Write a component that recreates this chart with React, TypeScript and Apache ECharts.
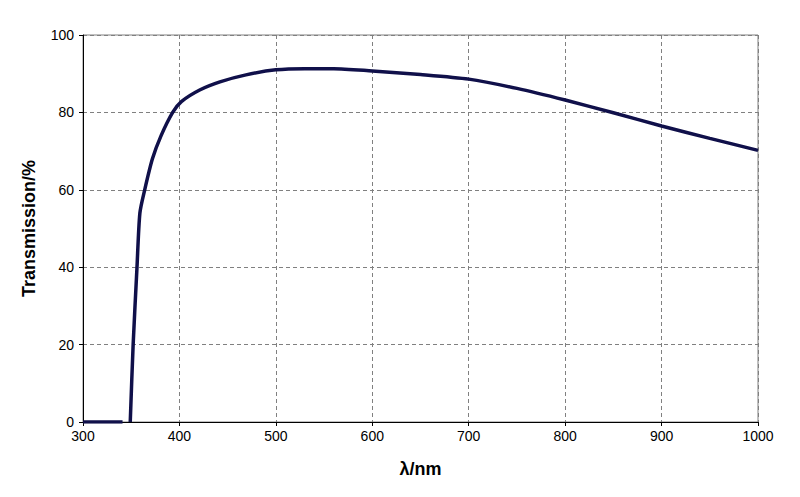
import React, { useEffect, useRef } from "react";
import * as echarts from "echarts";

const wavelengths = [300, 320, 341, 345, 349, 352, 356, 359, 364, 372, 381, 393, 402, 421, 442, 469, 500, 530, 560, 600, 650, 700, 750, 800, 850, 900, 950, 1000];
const transmission: (number | null)[] = [0, 0, 0, null, 0, 20, 40, 54, 60, 68, 74, 80, 82.8, 85.8, 87.9, 89.7, 91.0, 91.3, 91.3, 90.7, 89.8, 88.6, 86.2, 83.2, 79.9, 76.5, 73.3, 70.2];
const xTicks = { min: 300, max: 1000, interval: 100 };
const yTicks = { min: 0, max: 100, interval: 20 };

export default function App() {
  const ref = useRef<HTMLDivElement>(null);
  useEffect(() => {
    if (!ref.current) return;
    const chart = echarts.init(ref.current, undefined, { renderer: "svg" });
    const data = wavelengths.map((w, i) => [w, transmission[i] === null ? "-" : transmission[i]]);
    chart.setOption({
      animation: false,
      textStyle: { fontFamily: "Liberation Sans, Arial, sans-serif" },
      grid: { left: 83, right: 42, top: 35, bottom: 75, show: true, borderColor: "#808080", borderWidth: 1, backgroundColor: "transparent" },
      xAxis: {
        type: "value",
        min: xTicks.min, max: xTicks.max, interval: xTicks.interval,
        name: "λ/nm", nameLocation: "middle", nameGap: 38,
        nameTextStyle: { fontWeight: "bold", fontSize: 18, color: "#000" },
        axisLine: { lineStyle: { color: "#000", width: 1 } },
        axisTick: { show: true, length: 4, lineStyle: { color: "#000" } },
        axisLabel: { color: "#000", fontSize: 14, margin: 7, formatter: (v: number) => String(v) },
        splitLine: { show: true, lineStyle: { color: "#808080", type: [4, 3], width: 1 } },
      },
      yAxis: {
        type: "value",
        min: yTicks.min, max: yTicks.max, interval: yTicks.interval,
        name: "Transmission/%", nameLocation: "middle", nameGap: 45,
        nameTextStyle: { fontWeight: "bold", fontSize: 18, color: "#000" },
        axisLine: { show: true, lineStyle: { color: "#000", width: 1 } },
        axisTick: { show: true, length: 4, lineStyle: { color: "#000" } },
        axisLabel: { color: "#000", fontSize: 14, margin: 9 },
        splitLine: { show: true, lineStyle: { color: "#808080", type: [4, 3], width: 1 } },
      },
      series: [
        {
          type: "line",
          data,
          showSymbol: false,
          smooth: 0.25,
          connectNulls: false,
          lineStyle: { color: "#10104a", width: 3.5 },
        },
      ],
    });
    return () => chart.dispose();
  }, []);
  return <div ref={ref} style={{ width: 800, height: 497, position: "absolute", left: 0, top: 0 }} />;
}
